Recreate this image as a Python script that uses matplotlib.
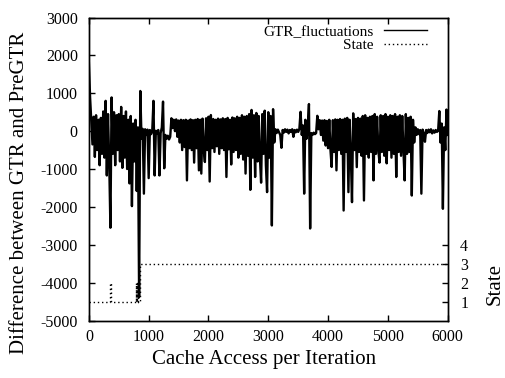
import numpy as np
import matplotlib
matplotlib.use("Agg")
import matplotlib.pyplot as plt

plt.rcParams['font.family'] = ['Liberation Serif', 'DejaVu Serif']
plt.rcParams['axes.unicode_minus'] = False

step = 20  # iterations between samples
gtr_fluctuations = [
    1800, 900, 250, -350, 380, -680, 420, -500, 300, -900,
    350, -600, 520, -700, 800, -1170, 450, -800, -2550, 890,
    -600, 500, -900, 420, -500, 450, -800, 640, -970, 400,
    -700, 520, -1000, 300, -1380, 400, -1980, 200, -800, 300,
    -1580, 100, -4380, 1060, -200, 60, -1650, 50, -100, 40,
    -1240, 30, -80, 20, 800, -1170, 10, -60, 30, -1170,
    -50, 100, 780, -980, -100, -200, -120, -220, -150, 340,
    80, 300, 0, 310, -150, 280, -300, 300, -500, 290,
    -420, 300, -1300, 280, -450, 310, -500, 290, -830, 300,
    -450, 320, -1035, 300, -1120, 330, -480, -815, 340, -500,
    380, -1330, 425, -450, 320, -550, 300, -400, 330, -600,
    310, -450, 340, -500, 320, -1210, 350, -480, 300, -880,
    360, -550, 340, -500, 380, -700, 350, -600, 420, -750,
    380, -1120, 400, -650, 450, -1550, 560, -700, 420, -1210,
    480, -800, 400, -700, -1360, 450, -600, 540, -900, -1610,
    500, -700, 400, -2490, 580, -300, 50, -50, 40, -30,
    -100, -440, 30, -40, 50, -20, 40, -60, 30, -20,
    50, -150, 30, -30, 40, -20, 60, 510, -100, 150,
    -1650, 300, -200, 100, 715, -2570, -50, -100, -40, -80,
    -50, 405, 50, 290, -100, 280, -250, 290, -380, 270,
    -450, 300, -500, -945, 290, -550, 310, -1035, 300, -500,
    320, -600, 300, -2095, 330, -550, 350, -1610, 300, -600,
    -1875, 470, -500, 320, -950, 350, -550, 330, -650, 400,
    -1830, 420, -600, 350, -700, 380, -550, 400, -1300, 450,
    -600, 380, -500, -830, 420, -550, 400, -650, 450, -850,
    380, -500, 420, -700, 400, -600, 450, -1210, 380, -550,
    420, -650, 400, -500, -1300, 450, -600, 350, -550, 380,
    -1700, 300, -300, 100, -100, 50, -80, 30, -1650, 40,
    -60, -280, 30, -50, 40, -30, 50, -60, 20, -40,
    30, -20, 10, 530, -300, 200, -2050, 100, -500, 570,
    -100,
]
state_x = [0, 360, 366, 785, 791, 800, 806, 815, 821, 848, 6000]
state = [1, 2, 1, 2, 1, 2, 1, 2, 1, 3, 3]

gtr_x = np.arange(len(gtr_fluctuations)) * step

fig = plt.figure(figsize=(5.05, 3.78), dpi=100)
ax = fig.add_axes([0.176, 0.152, 0.7105, 0.8017])
ax2 = ax.twinx()

l1, = ax.plot(gtr_x, gtr_fluctuations, color='black', lw=1.7, label='GTR_fluctuations')
l2, = ax2.plot(state_x, state, color='black', lw=1.0, ls=(0, (1, 2)),
               drawstyle='steps-post', label='State')

ax.set_xlim(0, 6000)
ax.set_ylim(-5000, 3000)
ax.set_xticks(range(0, 6001, 1000))
ax.set_yticks(range(-5000, 3001, 1000))
ax2.set_ylim(0, 16)
ax2.set_yticks([1, 2, 3, 4])

ax.tick_params(axis='x', direction='in', length=4, width=1, labelsize=11.5, pad=6, top=True)
ax.tick_params(axis='y', direction='in', length=4, width=1, labelsize=11.5, pad=8, right=False)
ax2.tick_params(axis='y', direction='in', length=4, width=1, labelsize=11.5, pad=9)
for a in (ax, ax2):
    for s in a.spines.values():
        s.set_linewidth(1.0)

ax.set_xlabel('Cache Access per Iteration', fontsize=15)
ax.xaxis.set_label_coords(0.488, -0.097)
ax.set_ylabel('Difference between GTR and PreGTR', fontsize=15)
ax.yaxis.set_label_coords(-0.168, 0.42)
ax2.set_ylabel('State', fontsize=15)
ax2.yaxis.set_label_coords(1.107, 0.12)

leg = ax2.legend([l1, l2], ['GTR_fluctuations', 'State'], loc='upper right',
                 bbox_to_anchor=(0.943, 0.975), frameon=False, markerfirst=False,
                 fontsize=11, handlelength=2.8, handletextpad=0.7, borderpad=0,
                 borderaxespad=0, labelspacing=0.0)
leg.get_lines()[0].set_linewidth(1.0)

fig.savefig('out.png', dpi=100)
